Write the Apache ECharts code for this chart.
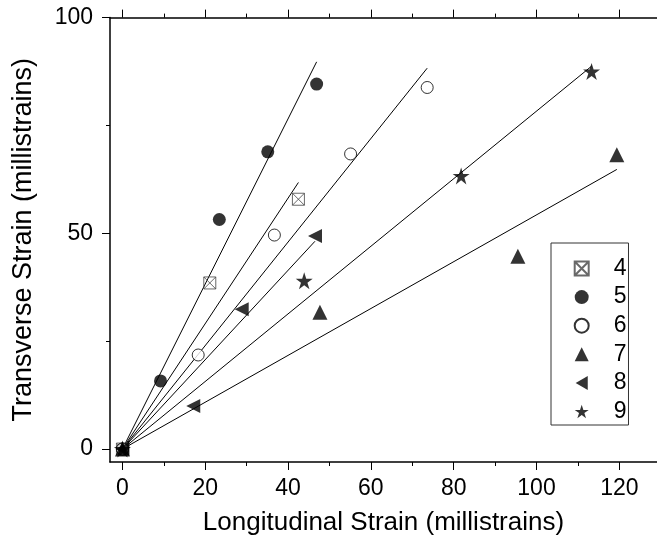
<!DOCTYPE html>
<html>
<head>
<meta charset="utf-8">
<script src="https://cdn.jsdelivr.net/npm/echarts@6/dist/echarts.min.js"></script>
<style>
html,body{margin:0;padding:0;background:#fff;}
#chart{width:657px;height:550px;}
</style>
</head>
<body>
<div id="chart"></div>
<script>
// ---- data ----
var seriesNames = ['4', '5', '6', '7', '8', '9'];
var s4x = [0, 21.1, 42.5];
var s4y = [0, 38.5, 57.9];
var s5x = [0, 9.2, 23.4, 35.1, 46.9];
var s5y = [0, 15.8, 53.2, 68.9, 84.6];
var s6x = [0, 18.3, 36.7, 55.1, 73.6];
var s6y = [0, 21.8, 49.6, 68.4, 83.8];
var s7x = [0, 47.7, 95.5, 119.4];
var s7y = [0, 31.7, 44.7, 68.2];
var s8x = [0, 17.1, 28.8, 46.5];
var s8y = [0, 10.0, 32.4, 49.4];
var s9x = [0, 43.9, 81.8, 113.3];
var s9y = [0, 39.0, 63.3, 87.5];
var xMajorTicks = [0, 20, 40, 60, 80, 100, 120];
var xMinorTicks = [10, 30, 50, 70, 90, 110];
var yMajorTicks = [0, 50, 100];
var yMinorTicks = [25, 75];

var xs = [s4x, s5x, s6x, s7x, s8x, s9x];
var ys = [s4y, s5y, s6y, s7y, s8y, s9y];

function pairs(x, y) { return x.map(function (v, i) { return [v, y[i]]; }); }
// least squares line through the origin, drawn from 0 to the largest x
function fitLine(x, y) {
  var sxy = 0, sxx = 0, mx = 0;
  for (var i = 0; i < x.length; i++) { sxy += x[i] * y[i]; sxx += x[i] * x[i]; mx = Math.max(mx, x[i]); }
  var k = sxy / sxx;
  return [[0, 0], [mx, k * mx]];
}

var FONT = 'Liberation Sans, Arial, sans-serif';
var starPath = 'path://M50,0L62,36L100,36L69,58L81,95L50,72L19,95L31,58L0,36L38,36Z';
var boxPath = 'path://M0,0L20,0L20,20L0,20Z M0,0L20,20 M20,0L0,20';
var leftTriPath = 'path://M0,50L86.6,0L86.6,100Z';

var symbolStyles = [
  { symbol: boxPath, symbolSize: 12, itemStyle: { color: 'rgba(0,0,0,0)', borderColor: '#444', borderWidth: 1 } },
  { symbol: 'circle', symbolSize: 13, itemStyle: { color: '#000' } },
  { symbol: 'circle', symbolSize: 12, itemStyle: { color: '#fff', borderColor: '#000', borderWidth: 1 } },
  { symbol: 'triangle', symbolSize: 15, itemStyle: { color: '#000' } },
  { symbol: leftTriPath, symbolSize: 14, itemStyle: { color: '#000' } },
  { symbol: starPath, symbolSize: 17, itemStyle: { color: '#000' } }
];

var series = [];
for (var i = 0; i < seriesNames.length; i++) {
  series.push({
    name: 'fit' + seriesNames[i], type: 'line', data: fitLine(xs[i], ys[i]),
    showSymbol: false, symbol: 'none', silent: true, z: 1,
    lineStyle: { color: '#000', width: 1 }, itemStyle: { color: '#000' }
  });
}
for (var j = 0; j < seriesNames.length; j++) {
  var st = symbolStyles[j];
  series.push({
    name: seriesNames[j], type: 'scatter', data: pairs(xs[j], ys[j]), z: 3,
    symbol: st.symbol, symbolSize: st.symbolSize, itemStyle: st.itemStyle
  });
}

var XMIN = -3, XMAX = 129.1, YMIN = -3, YMAX = 100;
var black = '#000';

function xAx(pos, ticks, len, showLine, showLabel, extra) {
  var a = {
    type: 'value', position: pos, min: XMIN, max: XMAX, gridIndex: 0,
    axisLine: { show: showLine, onZero: false, lineStyle: { color: black, width: 1.5 } },
    axisTick: { show: true, inside: false, length: len, customValues: ticks, lineStyle: { color: black, width: 1 } },
    axisLabel: { show: showLabel, customValues: ticks, color: black, fontSize: 23, fontFamily: FONT, margin: 15 },
    splitLine: { show: false }
  };
  return Object.assign(a, extra || {});
}
function yAx(ticks, len, showLine, showLabel, extra) {
  var a = {
    type: 'value', position: 'left', min: YMIN, max: YMAX, gridIndex: 0,
    axisLine: { show: showLine, onZero: false, lineStyle: { color: black, width: 1.5 } },
    axisTick: { show: true, inside: false, length: len, customValues: ticks, lineStyle: { color: black, width: 1 } },
    axisLabel: { show: showLabel, customValues: ticks, color: black, fontSize: 23, fontFamily: FONT, margin: 17 },
    splitLine: { show: false }
  };
  return Object.assign(a, extra || {});
}

var chart = echarts.init(document.getElementById('chart'), null, { renderer: 'canvas' });
chart.setOption({
  backgroundColor: '#fff',
  animation: false,
  grid: { left: 110, right: 0, top: 17.6, bottom: 88, containLabel: false },
  legend: {
    data: seriesNames, orient: 'vertical', left: 551, top: 243,
    padding: [14, 2, 2, 22.7], itemGap: 5.6, itemWidth: 14, itemHeight: 14,
    borderColor: '#333', borderWidth: 1, backgroundColor: '#fff',
    textStyle: { fontSize: 23, fontFamily: FONT, color: black, lineHeight: 22, padding: [0, 0, 0, 20] },
    selectedMode: false
  },
  xAxis: [
    xAx('bottom', xMajorTicks, 8, true, true, {
      name: 'Longitudinal Strain (millistrains)', nameLocation: 'middle', nameGap: 48,
      nameTextStyle: { fontSize: 26, fontFamily: FONT, color: black }
    }),
    xAx('bottom', xMinorTicks, 4, false, false),
    xAx('top', xMajorTicks, 8, true, false),
    xAx('top', xMinorTicks, 4, false, false)
  ],
  yAxis: [
    yAx(yMajorTicks, 8, true, true, {
      name: 'Transverse Strain (millistrains)', nameLocation: 'middle', nameGap: 73, nameRotate: 90,
      nameTextStyle: { fontSize: 27, fontFamily: FONT, color: black }
    }),
    yAx(yMinorTicks, 4, false, false)
  ],
  series: series
});
</script>
</body>
</html>
